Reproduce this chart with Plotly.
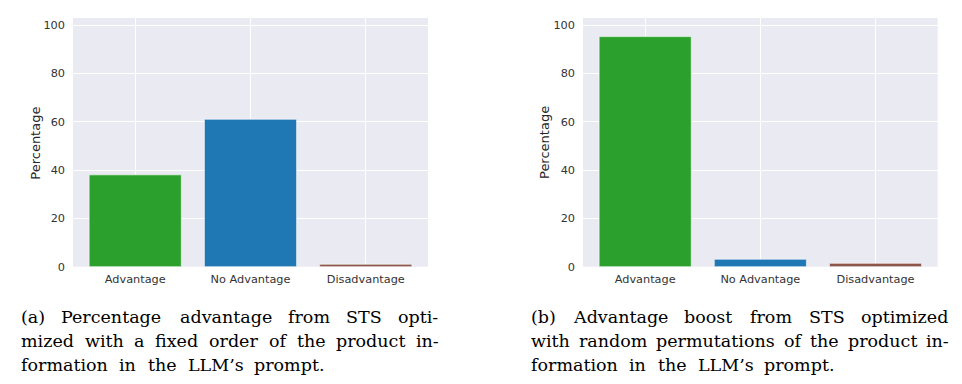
import plotly.graph_objects as go

categories = ["Advantage", "No Advantage", "Disadvantage"]
values_a = [38.0, 61.0, 1.0]
values_b = [95.2, 3.1, 1.4]
bar_colors = ["#2ca02c", "#1f77b4", "#8c564b"]
y_ticks = [0, 20, 40, 60, 80, 100]
y_label = "Percentage"

# caption lines as words
caption_a = [["(a)", "Percentage", "advantage", "from", "STS", "opti-"],
             ["mized", "with", "a", "fixed", "order", "of", "the", "product", "in-"],
             ["formation", "in", "the", "LLM\u2019s", "prompt."]]
caption_b = [["(b)", "Advantage", "boost", "from", "STS", "optimized"],
             ["with", "random", "permutations", "of", "the", "product", "in-"],
             ["formation", "in", "the", "LLM\u2019s", "prompt."]]

W, H = 962, 384
fig = go.Figure()
for vals, xa, ya in [(values_a, "x", "y"), (values_b, "x2", "y2")]:
    fig.add_trace(go.Bar(x=categories, y=vals, width=0.8,
                         marker=dict(color=bar_colors, line=dict(color="white", width=0.6)),
                         xaxis=xa, yaxis=ya, showlegend=False))

bg = "#EAEAF2"
tickfont = dict(family="DejaVu Sans", size=11.3, color="#333333")
ydom = [1 - 266.7 / H, 1 - 18 / H]
common_x = dict(type="category", range=[-0.54, 2.54], showgrid=True, gridcolor="white",
                gridwidth=1, zeroline=False, showline=False, ticks="", tickfont=tickfont,
                ticklabelstandoff=4, fixedrange=True, automargin=False)
common_y = dict(range=[0, 102.9], tickvals=y_ticks, showgrid=True, gridcolor="white",
                gridwidth=1, zeroline=False, showline=False, ticks="", tickfont=tickfont,
                ticklabelstandoff=7, fixedrange=True, automargin=False)

fig.update_layout(
    width=W, height=H, margin=dict(l=0, r=0, t=0, b=0),
    paper_bgcolor="white", plot_bgcolor=bg,
    xaxis=dict(domain=[73 / W, 428 / W], anchor="y", **common_x),
    yaxis=dict(domain=ydom, anchor="x", **common_y),
    xaxis2=dict(domain=[583 / W, 937.7 / W], anchor="y2", **common_x),
    yaxis2=dict(domain=ydom, anchor="x2", **common_y),
)

ann = []
for xpix in [35.7, 545.0]:
    ann.append(dict(text=y_label, x=xpix / W, y=1 - 143 / H, xref="paper", yref="paper",
                    xanchor="center", yanchor="middle", textangle=-90, showarrow=False,
                    font=dict(family="DejaVu Sans", size=13, color="#262626")))

FS = 17.5
capfont = dict(family="DejaVu Serif", size=FS, color="black")
line_y = [317, 341, 365]

# approximate DejaVu Serif advance widths (em) for justification
CW = {"(": .390, ")": .390, "-": .338, ".": .318, "a": .596, "b": .640, "c": .560,
      "d": .640, "e": .592, "f": .370, "g": .640, "h": .644, "i": .320, "l": .320,
      "m": .948, "n": .644, "o": .602, "p": .640, "r": .478, "s": .513, "t": .402,
      "u": .644, "v": .565, "w": .856, "x": .564, "z": .525, "A": .722, "P": .733,
      "S": .685, "T": .667, "L": .653, "M": .995, "\u2019": .318}

def wwidth(w):
    return sum(CW.get(c, 0.6) for c in w) * FS

def put(word, xpix, ypix):
    ann.append(dict(text=word, x=xpix / W, y=1 - ypix / H, xref="paper", yref="paper",
                    xanchor="left", yanchor="middle", showarrow=False, font=capfont,
                    borderpad=0))

def add_words(words, left, gap, ypix):
    x = left
    for w in words:
        put(w, x, ypix)
        x += wwidth(w) + gap

def add_justified(words, left, right, ypix):
    widths = [wwidth(w) for w in words]
    gap = (right - left - sum(widths)) / (len(words) - 1)
    add_words(words, left, gap, ypix)

for cap, L, R in [(caption_a, 20, 437.7), (caption_b, 530, 947.7)]:
    add_justified(cap[0], L, R, line_y[0])
    add_justified(cap[1], L, R, line_y[1])
    add_words(cap[2], L, 11.5, line_y[2])

fig.update_layout(annotations=ann)
fig.write_html("out.html", config={"displayModeBar": False},
               post_script="document.body.style.margin='0';document.body.style.overflow='hidden';")
